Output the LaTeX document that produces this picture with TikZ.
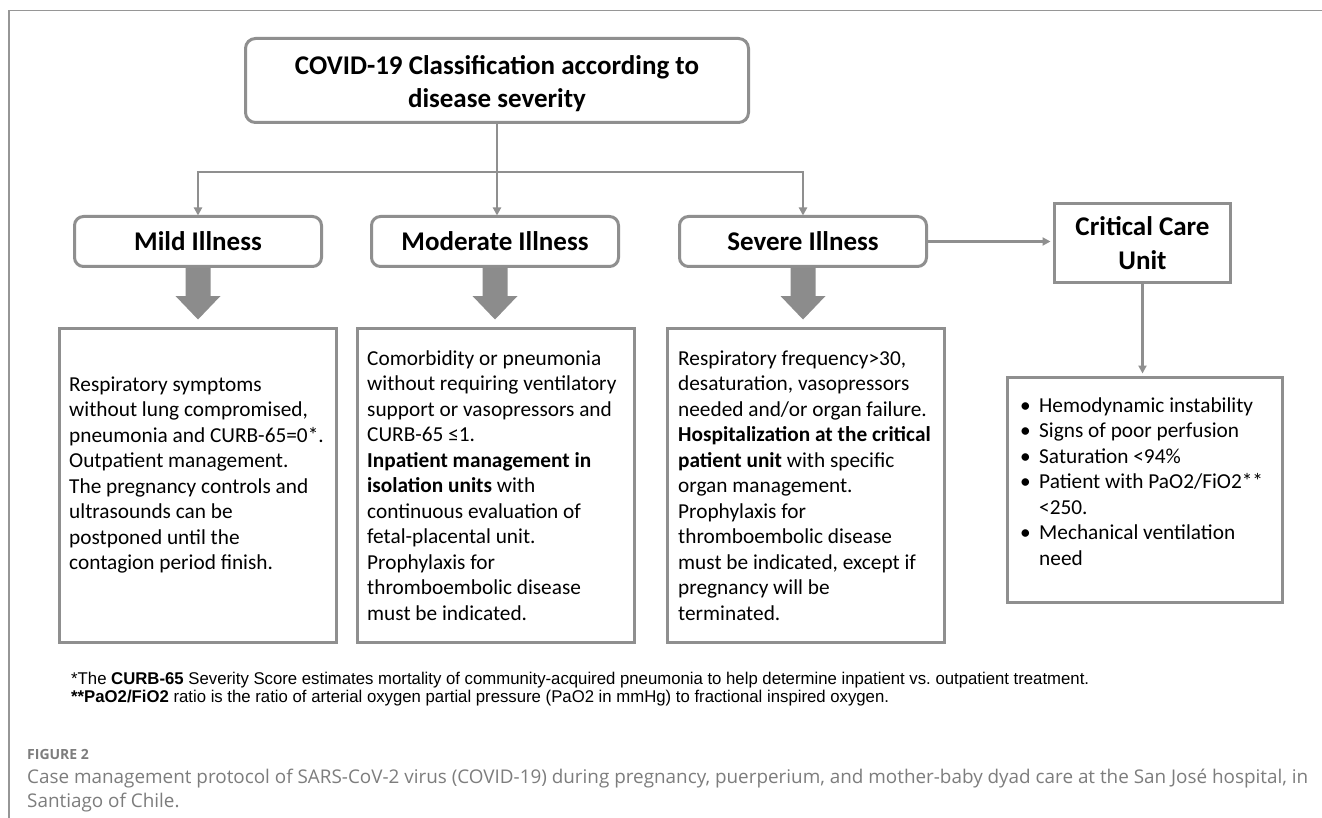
\documentclass[tikz,border=0pt]{standalone}
\usepackage{graphicx}
\usepackage{fontspec}
\setmainfont{Carlito}
\newfontfamily\fnfont{Liberation Sans}
\newfontfamily\capfont{Open Sans}
\usetikzlibrary{calc,arrows.meta}
\definecolor{boxgray}{RGB}{143,143,143}
\definecolor{blockgray}{RGB}{140,140,140}
\definecolor{framegray}{RGB}{150,150,150}
\definecolor{capgray}{RGB}{125,125,125}
\newsavebox\fnboxA
\newsavebox\fnboxB
\newsavebox\capboxA
\newdimen\fnwid
\newdimen\capwid
\AtBeginDocument{%
\sbox\fnboxA{\fnfont\fontsize{17pt}{20pt}\selectfont *The \textbf{CURB-65} Severity Score estimates mortality of community-acquired pneumonia to help determine inpatient vs.\ outpatient treatment.}%
\sbox\fnboxB{\fnfont\fontsize{17pt}{20pt}\selectfont \textbf{**PaO2/FiO2} ratio is the ratio of arterial oxygen partial pressure (PaO2 in mmHg) to fractional inspired oxygen.}%
\sbox\capboxA{\capfont\fontsize{10pt}{12pt}\selectfont Case management protocol of SARS-CoV-2 virus (COVID-19) during pregnancy, puerperium, and mother-baby dyad care at the San José hospital, in}%
\global\fnwid=\wd\fnboxA
\global\capwid=\wd\capboxA
\pgfmathsetmacro\fnscale{1018/\the\fnwid}%
\pgfmathsetmacro\capsize{10*1281/\the\capwid}%
\xdef\fnscale{\fnscale}%
\xdef\capsize{\capsize}%
}
\newcommand\blockarrow[2]{%
  \fill[blockgray] ($(#1.south)+(-12.5,1.5)$) -- ($(#1.south)+(12.5,1.5)$) -- ($(#1.south)+(12.5,29.5)$) -- ($(#1.south)+(22.5,29.5)$) -- ($(#1.south |- #2.north)+(0,-9)$) -- ($(#1.south)+(-22.5,29.5)$) -- ($(#1.south)+(-12.5,29.5)$) -- cycle;}
\begin{document}
\begin{tikzpicture}[x=1pt,y=-1pt,
  box/.style={draw=boxgray, line width=3pt, inner sep=0pt, outer sep=0pt},
  rbox/.style={box, rounded corners=9pt},
  lab/.style={font=\fontsize{27pt}{34pt}\selectfont\bfseries, align=center, text=black},
  body/.style={font=\fontsize{21.3pt}{25.5pt}\selectfont, align=left, inner sep=0pt, anchor=north west, text=black},
  conn/.style={draw=boxgray, line width=2.5pt, -{Triangle[length=8pt,width=8pt]}},
  plain/.style={draw=boxgray, line width=2.5pt}
]
\useasboundingbox (0,0) rectangle (1322,818);
\fill[white] (0,0) rectangle (1322,818);
\draw[framegray, line width=1.5pt] (1322,10.5) -- (9,10.5) -- (9,818);

% title
\node[rbox, rounded corners=10pt, minimum width=503pt, minimum height=84pt] (title) at (497,80.5) {};
\node[lab, font=\fontsize{27pt}{33pt}\selectfont\bfseries, anchor=north, inner sep=0pt] (titletxt) at (497,54) {\rule{0pt}{20pt}COVID-19 Classification according to\\disease severity};

% severity boxes
\node[rbox, lab, minimum width=247pt, minimum height=50pt] (mild) at (198,241.5) {Mild Illness};
\node[rbox, lab, minimum width=247pt, minimum height=50pt] (mod) at (495,241.5) {Moderate Illness};
\node[rbox, lab, minimum width=247pt, minimum height=50pt] (sev) at (803,241.5) {Severe Illness};
\node[box, lab, minimum width=176pt, minimum height=79pt] (crit) at (1142.5,243) {Critical Care\\Unit};

% content boxes
\node[box, minimum width=277pt, minimum height=314pt] (mildc) at (198,485.5) {};
\node[box, minimum width=277pt, minimum height=314pt] (modc) at (496,485.5) {};
\node[box, minimum width=277pt, minimum height=314pt] (sevc) at (806,485.5) {};
\node[box, minimum width=275pt, minimum height=225pt] (bul) at (1145,490) {};

\node[body] (mildt) at (69,371) {\rule{0pt}{20pt}Respiratory symptoms\\
without lung compromised,\\
pneumonia and CURB-65=0*.\\
Outpatient management.\\
The pregnancy controls and\\
ultrasounds can be\\
postponed until the\\
contagion period finish.};

\node[body] (modt) at (367,345) {\rule{0pt}{20pt}Comorbidity or pneumonia\\
without requiring ventilatory\\
support or vasopressors and\\
CURB-65 ≤1.\\
\textbf{Inpatient management in}\\
\textbf{isolation units} with\\
continuous evaluation of\\
fetal-placental unit.\\
Prophylaxis for\\
thromboembolic disease\\
must be indicated.};

\node[body] (sevt) at (678,345) {\rule{0pt}{20pt}Respiratory frequency>30,\\
desaturation, vasopressors\\
needed and/or organ failure.\\
\textbf{Hospitalization at the critical}\\
\textbf{patient unit} with specific\\
organ management.\\
Prophylaxis for\\
thromboembolic disease\\
must be indicated, except if\\
pregnancy will be\\
terminated.};

\node[body] (bult) at (1020,392) {\rule{0pt}{20pt}\makebox[19pt][l]{•}Hemodynamic instability\\
\makebox[19pt][l]{•}Signs of poor perfusion\\
\makebox[19pt][l]{•}Saturation <94\%\\
\makebox[19pt][l]{•}Patient with PaO2/FiO2**\\
\hspace*{19pt}<250.\\
\makebox[19pt][l]{•}Mechanical ventilation\\
\hspace*{19pt}need};

% connectors
\coordinate (split) at (497,172);
\draw[conn, shorten >=1pt] (title.south) -- (title.south |- mod.north);
\draw[conn, shorten >=1pt] (split) -| (mild.north);
\draw[conn, shorten >=1pt] (split) -| (sev.north);
\draw[conn, shorten >=4pt] (sev.east) -- (sev.east -| crit.west);
\draw[conn, shorten >=4pt] (crit.south) -- (crit.south |- bul.north);

% block arrows
\blockarrow{mild}{mildc}
\blockarrow{mod}{modc}
\blockarrow{sev}{sevc}

% footnotes
\node[anchor=base west, inner sep=0pt] (fn1) at (71,684) {\scalebox{\fnscale}[1]{\usebox\fnboxA}};
\node[anchor=base west, inner sep=0pt] (fn2) at (71,702) {\scalebox{\fnscale}[1]{\usebox\fnboxB}};

% caption
\node[anchor=base west, inner sep=0pt, text=capgray, font=\capfont\bfseries\fontsize{14pt}{17pt}\selectfont] (figlab) at (27,759) {FIGURE 2};
\node[anchor=base west, inner sep=0pt, text=capgray, font=\capfont\fontsize{\capsize pt}{23pt}\selectfont] (cap1) at (27,783) {Case management protocol of SARS-CoV-2 virus (COVID-19) during pregnancy, puerperium, and mother-baby dyad care at the San José hospital, in};
\node[anchor=base west, inner sep=0pt, text=capgray, font=\capfont\fontsize{\capsize pt}{23pt}\selectfont] (cap2) at (27,807) {Santiago of Chile.};
\end{tikzpicture}
\end{document}
